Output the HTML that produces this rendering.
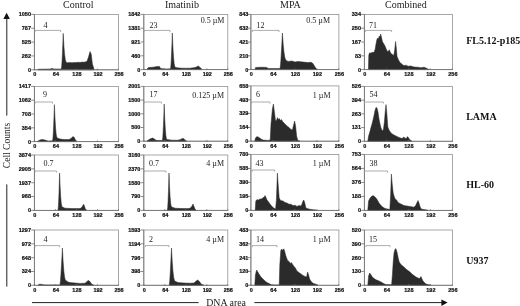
<!DOCTYPE html>
<html><head><meta charset="utf-8"><title>Figure</title>
<style>html,body{margin:0;padding:0;background:#fff;}body{width:520px;height:306px;overflow:hidden;}svg{display:block;will-change:transform;filter:blur(0.3px);}.t{font-family:"Liberation Sans",sans-serif;font-weight:bold;font-size:5.5px;fill:#111;stroke:#111;stroke-width:0.2px;}.s{font-family:"Liberation Serif",serif;font-size:10px;fill:#1a1a1a;}.l{font-family:"Liberation Serif",serif;font-size:8px;fill:#202020;}.b{font-family:"Liberation Serif",serif;font-size:10px;font-weight:bold;fill:#111;}</style></head><body>
<svg width="520" height="306" viewBox="0 0 520 306">
<rect width="520" height="306" fill="#fff"/>
<g>
<rect x="34.4" y="14.4" width="84.1" height="55.4" fill="none" stroke="#929292" stroke-width="0.8"/>
<path d="M38,69.8L38,69.2L50,69.0L52,68.4L54,69.0L61.3,69.0L61.68,66.29L62.06,60.78L62.44,53.28L62.82,44.09L63.2,33.4L63.88,45.42L64.56,53.89L65.24,59.18L65.92,61.79L66.6,62.4L67.5,62.7L70,62.5L72,62.8L74,62.5L76,62.6L78,62.3L80,62.4L82,62.1L84,62.2L86,61.7L87,61.3L88.5,57L90,51.6L91.2,54L92.4,64L94,69L94,69.8Z" fill="#2b2b2b" stroke="#2b2b2b" stroke-width="0.5" stroke-linejoin="round"/>
<path d="M34.4,14.4V69.8H118.5" fill="none" stroke="#707070" stroke-width="0.8"/>
<line x1="31.2" y1="14.40" x2="34.4" y2="14.40" stroke="#707070" stroke-width="0.8"/>
<text class="t" x="31.0" y="16.30" text-anchor="end">1050</text>
<line x1="31.2" y1="28.25" x2="34.4" y2="28.25" stroke="#707070" stroke-width="0.8"/>
<text class="t" x="31.0" y="30.15" text-anchor="end">787</text>
<line x1="31.2" y1="42.10" x2="34.4" y2="42.10" stroke="#707070" stroke-width="0.8"/>
<text class="t" x="31.0" y="44.00" text-anchor="end">525</text>
<line x1="31.2" y1="55.95" x2="34.4" y2="55.95" stroke="#707070" stroke-width="0.8"/>
<text class="t" x="31.0" y="57.85" text-anchor="end">262</text>
<line x1="31.2" y1="69.80" x2="34.4" y2="69.80" stroke="#707070" stroke-width="0.8"/>
<text class="t" x="31.0" y="71.70" text-anchor="end">0</text>
<line x1="34.40" y1="68.60" x2="34.40" y2="70.20" stroke="#707070" stroke-width="0.8"/>
<text class="t" x="34.90" y="76.20" text-anchor="middle">0</text>
<line x1="55.42" y1="68.60" x2="55.42" y2="70.20" stroke="#707070" stroke-width="0.8"/>
<text class="t" x="55.92" y="76.20" text-anchor="middle">64</text>
<line x1="76.45" y1="68.60" x2="76.45" y2="70.20" stroke="#707070" stroke-width="0.8"/>
<text class="t" x="76.95" y="76.20" text-anchor="middle">128</text>
<line x1="97.47" y1="68.60" x2="97.47" y2="70.20" stroke="#707070" stroke-width="0.8"/>
<text class="t" x="97.97" y="76.20" text-anchor="middle">192</text>
<line x1="118.50" y1="68.60" x2="118.50" y2="70.20" stroke="#707070" stroke-width="0.8"/>
<text class="t" x="119.00" y="76.20" text-anchor="middle">256</text>
<path d="M35,32.0V30.4H60.6V32.0" fill="none" stroke="#989898" stroke-width="0.8"/>
<text class="l" x="45.6" y="27.9" text-anchor="middle">4</text>
</g>
<g>
<rect x="143.8" y="14.4" width="84.0" height="55.2" fill="none" stroke="#929292" stroke-width="0.8"/>
<path d="M147,69.6L147,69L148.5,67.5L153,67.2L157,66.6L159.5,66.4L160.5,68.4L166,69L170.5,68.8L170.86,66.07L171.22,60.54L171.58,52.99L171.94,43.75L172.3,33.0L172.92,47.18L173.54,57.16L174.16,63.41L174.78,66.48L175.4,67.2L177,67.8L182,68.2L190,68.2L195,67.6L198.4,66L200,67.4L202,69.2L202,69.6Z" fill="#2b2b2b" stroke="#2b2b2b" stroke-width="0.5" stroke-linejoin="round"/>
<path d="M143.8,14.4V69.6H227.8" fill="none" stroke="#707070" stroke-width="0.8"/>
<line x1="140.60000000000002" y1="14.40" x2="143.8" y2="14.40" stroke="#707070" stroke-width="0.8"/>
<text class="t" x="140.4" y="16.30" text-anchor="end">1842</text>
<line x1="140.60000000000002" y1="28.20" x2="143.8" y2="28.20" stroke="#707070" stroke-width="0.8"/>
<text class="t" x="140.4" y="30.10" text-anchor="end">1381</text>
<line x1="140.60000000000002" y1="42.00" x2="143.8" y2="42.00" stroke="#707070" stroke-width="0.8"/>
<text class="t" x="140.4" y="43.90" text-anchor="end">921</text>
<line x1="140.60000000000002" y1="55.80" x2="143.8" y2="55.80" stroke="#707070" stroke-width="0.8"/>
<text class="t" x="140.4" y="57.70" text-anchor="end">460</text>
<line x1="140.60000000000002" y1="69.60" x2="143.8" y2="69.60" stroke="#707070" stroke-width="0.8"/>
<text class="t" x="140.4" y="71.50" text-anchor="end">0</text>
<line x1="143.80" y1="68.40" x2="143.80" y2="70.00" stroke="#707070" stroke-width="0.8"/>
<text class="t" x="144.30" y="76.00" text-anchor="middle">0</text>
<line x1="164.80" y1="68.40" x2="164.80" y2="70.00" stroke="#707070" stroke-width="0.8"/>
<text class="t" x="165.30" y="76.00" text-anchor="middle">64</text>
<line x1="185.80" y1="68.40" x2="185.80" y2="70.00" stroke="#707070" stroke-width="0.8"/>
<text class="t" x="186.30" y="76.00" text-anchor="middle">128</text>
<line x1="206.80" y1="68.40" x2="206.80" y2="70.00" stroke="#707070" stroke-width="0.8"/>
<text class="t" x="207.30" y="76.00" text-anchor="middle">192</text>
<line x1="227.80" y1="68.40" x2="227.80" y2="70.00" stroke="#707070" stroke-width="0.8"/>
<text class="t" x="228.30" y="76.00" text-anchor="middle">256</text>
<path d="M144,32.0V30.4H170V32.0" fill="none" stroke="#989898" stroke-width="0.8"/>
<text class="l" x="153.6" y="27.9" text-anchor="middle">23</text>
<text class="l" x="224.4" y="22.7" text-anchor="end">0.5 µM</text>
</g>
<g>
<rect x="250.9" y="14.4" width="88.0" height="55.2" fill="none" stroke="#929292" stroke-width="0.8"/>
<path d="M255,69.6L255,69.5L255.6,67.4L262,67.2L267,67.4L268,68.4L275,68.6L280,68.6L280.4,66.0L280.8,61.22L281.2,55.01L281.6,48.12L282.0,40.75L282.4,33.0L283.2,44.36L284.0,52.36L284.8,57.36L285.6,59.82L286.4,60.4L288,61.4L292,61.0L295,62L298,61.4L303,62L308,62.6L311,62.2L313,63.5L315,67L317,69.4L317,69.6Z" fill="#2b2b2b" stroke="#2b2b2b" stroke-width="0.5" stroke-linejoin="round"/>
<path d="M250.9,14.4V69.6H338.9" fill="none" stroke="#707070" stroke-width="0.8"/>
<line x1="247.70000000000002" y1="14.40" x2="250.9" y2="14.40" stroke="#707070" stroke-width="0.8"/>
<text class="t" x="248.4" y="16.30" text-anchor="end">843</text>
<line x1="247.70000000000002" y1="28.20" x2="250.9" y2="28.20" stroke="#707070" stroke-width="0.8"/>
<text class="t" x="248.4" y="30.10" text-anchor="end">632</text>
<line x1="247.70000000000002" y1="42.00" x2="250.9" y2="42.00" stroke="#707070" stroke-width="0.8"/>
<text class="t" x="248.4" y="43.90" text-anchor="end">421</text>
<line x1="247.70000000000002" y1="55.80" x2="250.9" y2="55.80" stroke="#707070" stroke-width="0.8"/>
<text class="t" x="248.4" y="57.70" text-anchor="end">210</text>
<line x1="247.70000000000002" y1="69.60" x2="250.9" y2="69.60" stroke="#707070" stroke-width="0.8"/>
<text class="t" x="248.4" y="71.50" text-anchor="end">0</text>
<line x1="250.90" y1="68.40" x2="250.90" y2="70.00" stroke="#707070" stroke-width="0.8"/>
<text class="t" x="251.40" y="76.00" text-anchor="middle">0</text>
<line x1="272.90" y1="68.40" x2="272.90" y2="70.00" stroke="#707070" stroke-width="0.8"/>
<text class="t" x="273.40" y="76.00" text-anchor="middle">64</text>
<line x1="294.90" y1="68.40" x2="294.90" y2="70.00" stroke="#707070" stroke-width="0.8"/>
<text class="t" x="295.40" y="76.00" text-anchor="middle">128</text>
<line x1="316.90" y1="68.40" x2="316.90" y2="70.00" stroke="#707070" stroke-width="0.8"/>
<text class="t" x="317.40" y="76.00" text-anchor="middle">192</text>
<line x1="338.90" y1="68.40" x2="338.90" y2="70.00" stroke="#707070" stroke-width="0.8"/>
<text class="t" x="339.40" y="76.00" text-anchor="middle">256</text>
<path d="M252.4,32.0V30.4H279V32.0" fill="none" stroke="#989898" stroke-width="0.8"/>
<text class="l" x="260.4" y="27.9" text-anchor="middle">12</text>
<text class="l" x="330" y="22.7" text-anchor="end">0.5 µM</text>
</g>
<g>
<rect x="364.4" y="14.4" width="88.0" height="55.2" fill="none" stroke="#929292" stroke-width="0.8"/>
<path d="M368.4,69.6L368.4,69.5L368.8,55L369.6,52.8L371,53.2L372,52.2L373.2,52.6L374.4,51.6L375.2,49L376,44L376.8,40L377.6,38L378.4,39.2L379.2,36L380,37L380.7,34L381.4,37L382.5,41.8L383.6,43.4L384.9,45.7L386,48.6L386.9,50.4L388,51.8L389.2,49.8L390,51.6L391,53.5L392.4,54.4L393.8,55.4L394.7,50L395.6,41.4L396.4,49L397,56.2L398.5,60L400,62.4L400.9,63.3L403.2,65.2L404.5,65.6L406,65.2L408,66.2L411,66L414,67L418,67.2L421,67.8L424,67.2L426.5,68.2L429,69.5L429,69.6Z" fill="#2b2b2b" stroke="#2b2b2b" stroke-width="0.5" stroke-linejoin="round"/>
<path d="M364.4,14.4V69.6H452.4" fill="none" stroke="#707070" stroke-width="0.8"/>
<line x1="361.2" y1="14.40" x2="364.4" y2="14.40" stroke="#707070" stroke-width="0.8"/>
<text class="t" x="361.0" y="16.30" text-anchor="end">334</text>
<line x1="361.2" y1="28.20" x2="364.4" y2="28.20" stroke="#707070" stroke-width="0.8"/>
<text class="t" x="361.0" y="30.10" text-anchor="end">250</text>
<line x1="361.2" y1="42.00" x2="364.4" y2="42.00" stroke="#707070" stroke-width="0.8"/>
<text class="t" x="361.0" y="43.90" text-anchor="end">167</text>
<line x1="361.2" y1="55.80" x2="364.4" y2="55.80" stroke="#707070" stroke-width="0.8"/>
<text class="t" x="361.0" y="57.70" text-anchor="end">83</text>
<line x1="361.2" y1="69.60" x2="364.4" y2="69.60" stroke="#707070" stroke-width="0.8"/>
<text class="t" x="361.0" y="71.50" text-anchor="end">0</text>
<line x1="364.40" y1="68.40" x2="364.40" y2="70.00" stroke="#707070" stroke-width="0.8"/>
<text class="t" x="364.90" y="76.00" text-anchor="middle">0</text>
<line x1="386.40" y1="68.40" x2="386.40" y2="70.00" stroke="#707070" stroke-width="0.8"/>
<text class="t" x="386.90" y="76.00" text-anchor="middle">64</text>
<line x1="408.40" y1="68.40" x2="408.40" y2="70.00" stroke="#707070" stroke-width="0.8"/>
<text class="t" x="408.90" y="76.00" text-anchor="middle">128</text>
<line x1="430.40" y1="68.40" x2="430.40" y2="70.00" stroke="#707070" stroke-width="0.8"/>
<text class="t" x="430.90" y="76.00" text-anchor="middle">192</text>
<line x1="452.40" y1="68.40" x2="452.40" y2="70.00" stroke="#707070" stroke-width="0.8"/>
<text class="t" x="452.90" y="76.00" text-anchor="middle">256</text>
<path d="M365.4,32.0V30.4H391.6V32.0" fill="none" stroke="#989898" stroke-width="0.8"/>
<text class="l" x="373" y="27.9" text-anchor="middle">71</text>
</g>
<g>
<rect x="34.4" y="86.4" width="84.1" height="55.2" fill="none" stroke="#929292" stroke-width="0.8"/>
<path d="M37.5,141.6L37.5,141.2L40,140L42,139.4L45,140L48,141L52.6,140.8L52.96,138.04L53.32,132.44L53.68,124.81L54.04,115.47L54.4,104.6L55.0,118.45L55.6,128.2L56.2,134.3L56.8,137.3L57.4,138.0L60,139L64,139.6L69,139.6L71,138.4L73,136.6L74.4,137.6L75.4,140L76.5,141.3L76.5,141.6Z" fill="#2b2b2b" stroke="#2b2b2b" stroke-width="0.5" stroke-linejoin="round"/>
<path d="M34.4,86.4V141.6H118.5" fill="none" stroke="#707070" stroke-width="0.8"/>
<line x1="31.2" y1="86.40" x2="34.4" y2="86.40" stroke="#707070" stroke-width="0.8"/>
<text class="t" x="31.0" y="88.30" text-anchor="end">1417</text>
<line x1="31.2" y1="100.20" x2="34.4" y2="100.20" stroke="#707070" stroke-width="0.8"/>
<text class="t" x="31.0" y="102.10" text-anchor="end">1062</text>
<line x1="31.2" y1="114.00" x2="34.4" y2="114.00" stroke="#707070" stroke-width="0.8"/>
<text class="t" x="31.0" y="115.90" text-anchor="end">708</text>
<line x1="31.2" y1="127.80" x2="34.4" y2="127.80" stroke="#707070" stroke-width="0.8"/>
<text class="t" x="31.0" y="129.70" text-anchor="end">354</text>
<line x1="31.2" y1="141.60" x2="34.4" y2="141.60" stroke="#707070" stroke-width="0.8"/>
<text class="t" x="31.0" y="143.50" text-anchor="end">0</text>
<line x1="34.40" y1="140.40" x2="34.40" y2="142.00" stroke="#707070" stroke-width="0.8"/>
<text class="t" x="34.90" y="148.00" text-anchor="middle">0</text>
<line x1="55.42" y1="140.40" x2="55.42" y2="142.00" stroke="#707070" stroke-width="0.8"/>
<text class="t" x="55.92" y="148.00" text-anchor="middle">64</text>
<line x1="76.45" y1="140.40" x2="76.45" y2="142.00" stroke="#707070" stroke-width="0.8"/>
<text class="t" x="76.95" y="148.00" text-anchor="middle">128</text>
<line x1="97.47" y1="140.40" x2="97.47" y2="142.00" stroke="#707070" stroke-width="0.8"/>
<text class="t" x="97.97" y="148.00" text-anchor="middle">192</text>
<line x1="118.50" y1="140.40" x2="118.50" y2="142.00" stroke="#707070" stroke-width="0.8"/>
<text class="t" x="119.00" y="148.00" text-anchor="middle">256</text>
<path d="M35,103.6V102H52.4V103.6" fill="none" stroke="#989898" stroke-width="0.8"/>
<text class="l" x="45" y="97.3" text-anchor="middle">9</text>
</g>
<g>
<rect x="143.8" y="86.4" width="84.0" height="54.8" fill="none" stroke="#929292" stroke-width="0.8"/>
<path d="M147,141.2L147,141L149,139.6L151,138.6L152.6,138L154,138.8L156,140.2L158,140.6L162.4,140.4L162.76,137.63L163.12,132.0L163.48,124.33L163.84,114.93L164.2,104.0L164.76,118.68L165.32,129.01L165.88,135.47L166.44,138.66L167.0,139.4L172,140.2L178,140.2L180.5,139.4L183,138.2L184.6,139.4L186.5,141.2L186.5,141.2Z" fill="#2b2b2b" stroke="#2b2b2b" stroke-width="0.5" stroke-linejoin="round"/>
<path d="M143.8,86.4V141.2H227.8" fill="none" stroke="#707070" stroke-width="0.8"/>
<line x1="140.60000000000002" y1="86.40" x2="143.8" y2="86.40" stroke="#707070" stroke-width="0.8"/>
<text class="t" x="140.4" y="88.30" text-anchor="end">2001</text>
<line x1="140.60000000000002" y1="100.10" x2="143.8" y2="100.10" stroke="#707070" stroke-width="0.8"/>
<text class="t" x="140.4" y="102.00" text-anchor="end">1500</text>
<line x1="140.60000000000002" y1="113.80" x2="143.8" y2="113.80" stroke="#707070" stroke-width="0.8"/>
<text class="t" x="140.4" y="115.70" text-anchor="end">1000</text>
<line x1="140.60000000000002" y1="127.50" x2="143.8" y2="127.50" stroke="#707070" stroke-width="0.8"/>
<text class="t" x="140.4" y="129.40" text-anchor="end">500</text>
<line x1="140.60000000000002" y1="141.20" x2="143.8" y2="141.20" stroke="#707070" stroke-width="0.8"/>
<text class="t" x="140.4" y="143.10" text-anchor="end">0</text>
<line x1="143.80" y1="140.00" x2="143.80" y2="141.60" stroke="#707070" stroke-width="0.8"/>
<text class="t" x="144.30" y="147.60" text-anchor="middle">0</text>
<line x1="164.80" y1="140.00" x2="164.80" y2="141.60" stroke="#707070" stroke-width="0.8"/>
<text class="t" x="165.30" y="147.60" text-anchor="middle">64</text>
<line x1="185.80" y1="140.00" x2="185.80" y2="141.60" stroke="#707070" stroke-width="0.8"/>
<text class="t" x="186.30" y="147.60" text-anchor="middle">128</text>
<line x1="206.80" y1="140.00" x2="206.80" y2="141.60" stroke="#707070" stroke-width="0.8"/>
<text class="t" x="207.30" y="147.60" text-anchor="middle">192</text>
<line x1="227.80" y1="140.00" x2="227.80" y2="141.60" stroke="#707070" stroke-width="0.8"/>
<text class="t" x="228.30" y="147.60" text-anchor="middle">256</text>
<path d="M144,103.6V102H161.4V103.6" fill="none" stroke="#989898" stroke-width="0.8"/>
<text class="l" x="153.4" y="97.3" text-anchor="middle">17</text>
<text class="l" x="224" y="97.5" text-anchor="end">0.125 µM</text>
</g>
<g>
<rect x="250.9" y="85.9" width="88.0" height="55.3" fill="none" stroke="#929292" stroke-width="0.8"/>
<path d="M254.8,141.2L254.8,141.2L255.4,138L257,136.6L259,137.4L261,139L263,140L268,140.4L270.2,140L271,124L272.4,109L273.4,104L274.4,112L275.4,120L276.4,121L277.4,117.6L278.4,119.4L279.4,118.6L280.4,120.6L281.4,119.6L283,122L285,124L287,126L289,127.4L291,129.4L292.4,130L293.6,125L294.6,121L295.6,126L296.6,136L297.8,140.4L300,141.2L300,141.2Z" fill="#2b2b2b" stroke="#2b2b2b" stroke-width="0.5" stroke-linejoin="round"/>
<path d="M250.9,85.9V141.2H338.9" fill="none" stroke="#707070" stroke-width="0.8"/>
<line x1="247.70000000000002" y1="85.90" x2="250.9" y2="85.90" stroke="#707070" stroke-width="0.8"/>
<text class="t" x="248.4" y="87.80" text-anchor="end">658</text>
<line x1="247.70000000000002" y1="99.72" x2="250.9" y2="99.72" stroke="#707070" stroke-width="0.8"/>
<text class="t" x="248.4" y="101.62" text-anchor="end">493</text>
<line x1="247.70000000000002" y1="113.55" x2="250.9" y2="113.55" stroke="#707070" stroke-width="0.8"/>
<text class="t" x="248.4" y="115.45" text-anchor="end">329</text>
<line x1="247.70000000000002" y1="127.38" x2="250.9" y2="127.38" stroke="#707070" stroke-width="0.8"/>
<text class="t" x="248.4" y="129.28" text-anchor="end">164</text>
<line x1="247.70000000000002" y1="141.20" x2="250.9" y2="141.20" stroke="#707070" stroke-width="0.8"/>
<text class="t" x="248.4" y="143.10" text-anchor="end">0</text>
<line x1="250.90" y1="140.00" x2="250.90" y2="141.60" stroke="#707070" stroke-width="0.8"/>
<text class="t" x="251.40" y="147.60" text-anchor="middle">0</text>
<line x1="272.90" y1="140.00" x2="272.90" y2="141.60" stroke="#707070" stroke-width="0.8"/>
<text class="t" x="273.40" y="147.60" text-anchor="middle">64</text>
<line x1="294.90" y1="140.00" x2="294.90" y2="141.60" stroke="#707070" stroke-width="0.8"/>
<text class="t" x="295.40" y="147.60" text-anchor="middle">128</text>
<line x1="316.90" y1="140.00" x2="316.90" y2="141.60" stroke="#707070" stroke-width="0.8"/>
<text class="t" x="317.40" y="147.60" text-anchor="middle">192</text>
<line x1="338.90" y1="140.00" x2="338.90" y2="141.60" stroke="#707070" stroke-width="0.8"/>
<text class="t" x="339.40" y="147.60" text-anchor="middle">256</text>
<path d="M251,103.6V102H270V103.6" fill="none" stroke="#989898" stroke-width="0.8"/>
<text class="l" x="258" y="97.3" text-anchor="middle">6</text>
<text class="l" x="330.6" y="97.5" text-anchor="end">1 µM</text>
</g>
<g>
<rect x="364.4" y="86.4" width="88.0" height="54.9" fill="none" stroke="#929292" stroke-width="0.8"/>
<path d="M367.8,141.3L367.8,141.2L368.6,136L369.8,132L370.8,128L372,124L373,120L374,115.6L375,110.4L376,107.4L377,108L378,112L379,119L380,124L381,128L382.4,131L383.4,129.6L384.4,122L385.2,112L386,104.6L386.8,113L387.8,127L389,130L391,133L393,134.4L396,136L399,137.4L402,138.6L403,137.6L404,137L405,138.4L406.4,138.2L407.6,136.6L408.6,138L410,140L412,141.2L412,141.3Z" fill="#2b2b2b" stroke="#2b2b2b" stroke-width="0.5" stroke-linejoin="round"/>
<path d="M364.4,86.4V141.3H452.4" fill="none" stroke="#707070" stroke-width="0.8"/>
<line x1="361.2" y1="86.40" x2="364.4" y2="86.40" stroke="#707070" stroke-width="0.8"/>
<text class="t" x="361.0" y="88.30" text-anchor="end">526</text>
<line x1="361.2" y1="100.12" x2="364.4" y2="100.12" stroke="#707070" stroke-width="0.8"/>
<text class="t" x="361.0" y="102.03" text-anchor="end">394</text>
<line x1="361.2" y1="113.85" x2="364.4" y2="113.85" stroke="#707070" stroke-width="0.8"/>
<text class="t" x="361.0" y="115.75" text-anchor="end">263</text>
<line x1="361.2" y1="127.58" x2="364.4" y2="127.58" stroke="#707070" stroke-width="0.8"/>
<text class="t" x="361.0" y="129.48" text-anchor="end">131</text>
<line x1="361.2" y1="141.30" x2="364.4" y2="141.30" stroke="#707070" stroke-width="0.8"/>
<text class="t" x="361.0" y="143.20" text-anchor="end">0</text>
<line x1="364.40" y1="140.10" x2="364.40" y2="141.70" stroke="#707070" stroke-width="0.8"/>
<text class="t" x="364.90" y="147.70" text-anchor="middle">0</text>
<line x1="386.40" y1="140.10" x2="386.40" y2="141.70" stroke="#707070" stroke-width="0.8"/>
<text class="t" x="386.90" y="147.70" text-anchor="middle">64</text>
<line x1="408.40" y1="140.10" x2="408.40" y2="141.70" stroke="#707070" stroke-width="0.8"/>
<text class="t" x="408.90" y="147.70" text-anchor="middle">128</text>
<line x1="430.40" y1="140.10" x2="430.40" y2="141.70" stroke="#707070" stroke-width="0.8"/>
<text class="t" x="430.90" y="147.70" text-anchor="middle">192</text>
<line x1="452.40" y1="140.10" x2="452.40" y2="141.70" stroke="#707070" stroke-width="0.8"/>
<text class="t" x="452.90" y="147.70" text-anchor="middle">256</text>
<path d="M364.4,103.6V102H383.4V103.6" fill="none" stroke="#989898" stroke-width="0.8"/>
<text class="l" x="373.4" y="97.3" text-anchor="middle">54</text>
</g>
<g>
<rect x="34.4" y="155.0" width="84.1" height="55.4" fill="none" stroke="#929292" stroke-width="0.8"/>
<path d="M58.0,210.4L58.0,210.0L58.32,207.18L58.64,201.46L58.96,193.66L59.28,184.11L59.6,173.0L60.16,187.1L60.72,197.02L61.28,203.23L61.84,206.29L62.4,207.0L65,208.2L72,208.6L80,208.6L81.6,207.6L82.6,206L83.6,204.2L84.4,206L85.2,208.6L86.5,210.2L86.5,210.4Z" fill="#2b2b2b" stroke="#2b2b2b" stroke-width="0.5" stroke-linejoin="round"/>
<path d="M34.4,155.0V210.4H118.5" fill="none" stroke="#707070" stroke-width="0.8"/>
<line x1="31.2" y1="155.00" x2="34.4" y2="155.00" stroke="#707070" stroke-width="0.8"/>
<text class="t" x="31.0" y="156.90" text-anchor="end">3874</text>
<line x1="31.2" y1="168.85" x2="34.4" y2="168.85" stroke="#707070" stroke-width="0.8"/>
<text class="t" x="31.0" y="170.75" text-anchor="end">2905</text>
<line x1="31.2" y1="182.70" x2="34.4" y2="182.70" stroke="#707070" stroke-width="0.8"/>
<text class="t" x="31.0" y="184.60" text-anchor="end">1937</text>
<line x1="31.2" y1="196.55" x2="34.4" y2="196.55" stroke="#707070" stroke-width="0.8"/>
<text class="t" x="31.0" y="198.45" text-anchor="end">968</text>
<line x1="31.2" y1="210.40" x2="34.4" y2="210.40" stroke="#707070" stroke-width="0.8"/>
<text class="t" x="31.0" y="212.30" text-anchor="end">0</text>
<line x1="34.40" y1="209.20" x2="34.40" y2="210.80" stroke="#707070" stroke-width="0.8"/>
<text class="t" x="34.90" y="216.80" text-anchor="middle">0</text>
<line x1="55.42" y1="209.20" x2="55.42" y2="210.80" stroke="#707070" stroke-width="0.8"/>
<text class="t" x="55.92" y="216.80" text-anchor="middle">64</text>
<line x1="76.45" y1="209.20" x2="76.45" y2="210.80" stroke="#707070" stroke-width="0.8"/>
<text class="t" x="76.95" y="216.80" text-anchor="middle">128</text>
<line x1="97.47" y1="209.20" x2="97.47" y2="210.80" stroke="#707070" stroke-width="0.8"/>
<text class="t" x="97.97" y="216.80" text-anchor="middle">192</text>
<line x1="118.50" y1="209.20" x2="118.50" y2="210.80" stroke="#707070" stroke-width="0.8"/>
<text class="t" x="119.00" y="216.80" text-anchor="middle">256</text>
<path d="M35,172.6V171H56.6V172.6" fill="none" stroke="#989898" stroke-width="0.8"/>
<text class="l" x="48.4" y="166.1" text-anchor="middle">0.7</text>
</g>
<g>
<rect x="143.8" y="155.0" width="84.0" height="55.4" fill="none" stroke="#929292" stroke-width="0.8"/>
<path d="M167.4,210.4L167.4,210.0L167.72,207.18L168.04,201.46L168.36,193.66L168.68,184.11L169.0,173.0L169.56,187.1L170.12,197.02L170.68,203.23L171.24,206.29L171.8,207.0L175,208.2L182,208.6L189,208.6L191,207.6L192,206L193,204L193.8,206L194.8,208.6L196,210.2L196,210.4Z" fill="#2b2b2b" stroke="#2b2b2b" stroke-width="0.5" stroke-linejoin="round"/>
<path d="M143.8,155.0V210.4H227.8" fill="none" stroke="#707070" stroke-width="0.8"/>
<line x1="140.60000000000002" y1="155.00" x2="143.8" y2="155.00" stroke="#707070" stroke-width="0.8"/>
<text class="t" x="140.4" y="156.90" text-anchor="end">3160</text>
<line x1="140.60000000000002" y1="168.85" x2="143.8" y2="168.85" stroke="#707070" stroke-width="0.8"/>
<text class="t" x="140.4" y="170.75" text-anchor="end">2370</text>
<line x1="140.60000000000002" y1="182.70" x2="143.8" y2="182.70" stroke="#707070" stroke-width="0.8"/>
<text class="t" x="140.4" y="184.60" text-anchor="end">1580</text>
<line x1="140.60000000000002" y1="196.55" x2="143.8" y2="196.55" stroke="#707070" stroke-width="0.8"/>
<text class="t" x="140.4" y="198.45" text-anchor="end">790</text>
<line x1="140.60000000000002" y1="210.40" x2="143.8" y2="210.40" stroke="#707070" stroke-width="0.8"/>
<text class="t" x="140.4" y="212.30" text-anchor="end">0</text>
<line x1="143.80" y1="209.20" x2="143.80" y2="210.80" stroke="#707070" stroke-width="0.8"/>
<text class="t" x="144.30" y="216.80" text-anchor="middle">0</text>
<line x1="164.80" y1="209.20" x2="164.80" y2="210.80" stroke="#707070" stroke-width="0.8"/>
<text class="t" x="165.30" y="216.80" text-anchor="middle">64</text>
<line x1="185.80" y1="209.20" x2="185.80" y2="210.80" stroke="#707070" stroke-width="0.8"/>
<text class="t" x="186.30" y="216.80" text-anchor="middle">128</text>
<line x1="206.80" y1="209.20" x2="206.80" y2="210.80" stroke="#707070" stroke-width="0.8"/>
<text class="t" x="207.30" y="216.80" text-anchor="middle">192</text>
<line x1="227.80" y1="209.20" x2="227.80" y2="210.80" stroke="#707070" stroke-width="0.8"/>
<text class="t" x="228.30" y="216.80" text-anchor="middle">256</text>
<path d="M144,172.6V171H166V172.6" fill="none" stroke="#989898" stroke-width="0.8"/>
<text class="l" x="154" y="166.1" text-anchor="middle">0.7</text>
<text class="l" x="224" y="166.1" text-anchor="end">4 µM</text>
</g>
<g>
<rect x="250.9" y="154.4" width="88.0" height="56.0" fill="none" stroke="#929292" stroke-width="0.8"/>
<path d="M255.2,210.4L255.2,210.2L255.8,201L257,199.6L258.4,200L260,199L261.6,199L263,197.6L264,197.4L265,195.6L266,197.6L267,200L268.6,202L270,204L271.6,206L273.6,208L275.6,209L276.4,200L277.4,173L278.2,185L279.2,198L280.6,200.6L283,201L285,202.4L287,203L289,204.2L291,204.2L293,205.6L295,205.2L297,206.4L299,205.6L301,206L302,204L303,201L303.8,200L304.8,203L305.8,207.4L307,208.6L311,209.4L317,210.2L317,210.4Z" fill="#2b2b2b" stroke="#2b2b2b" stroke-width="0.5" stroke-linejoin="round"/>
<path d="M250.9,154.4V210.4H338.9" fill="none" stroke="#707070" stroke-width="0.8"/>
<line x1="247.70000000000002" y1="154.40" x2="250.9" y2="154.40" stroke="#707070" stroke-width="0.8"/>
<text class="t" x="248.4" y="156.30" text-anchor="end">780</text>
<line x1="247.70000000000002" y1="168.40" x2="250.9" y2="168.40" stroke="#707070" stroke-width="0.8"/>
<text class="t" x="248.4" y="170.30" text-anchor="end">585</text>
<line x1="247.70000000000002" y1="182.40" x2="250.9" y2="182.40" stroke="#707070" stroke-width="0.8"/>
<text class="t" x="248.4" y="184.30" text-anchor="end">390</text>
<line x1="247.70000000000002" y1="196.40" x2="250.9" y2="196.40" stroke="#707070" stroke-width="0.8"/>
<text class="t" x="248.4" y="198.30" text-anchor="end">195</text>
<line x1="247.70000000000002" y1="210.40" x2="250.9" y2="210.40" stroke="#707070" stroke-width="0.8"/>
<text class="t" x="248.4" y="212.30" text-anchor="end">0</text>
<line x1="250.90" y1="209.20" x2="250.90" y2="210.80" stroke="#707070" stroke-width="0.8"/>
<text class="t" x="251.40" y="216.80" text-anchor="middle">0</text>
<line x1="272.90" y1="209.20" x2="272.90" y2="210.80" stroke="#707070" stroke-width="0.8"/>
<text class="t" x="273.40" y="216.80" text-anchor="middle">64</text>
<line x1="294.90" y1="209.20" x2="294.90" y2="210.80" stroke="#707070" stroke-width="0.8"/>
<text class="t" x="295.40" y="216.80" text-anchor="middle">128</text>
<line x1="316.90" y1="209.20" x2="316.90" y2="210.80" stroke="#707070" stroke-width="0.8"/>
<text class="t" x="317.40" y="216.80" text-anchor="middle">192</text>
<line x1="338.90" y1="209.20" x2="338.90" y2="210.80" stroke="#707070" stroke-width="0.8"/>
<text class="t" x="339.40" y="216.80" text-anchor="middle">256</text>
<path d="M252.4,171.6V170H274.6V171.6" fill="none" stroke="#989898" stroke-width="0.8"/>
<text class="l" x="259.4" y="166.1" text-anchor="middle">43</text>
<text class="l" x="330.6" y="166.1" text-anchor="end">1 µM</text>
</g>
<g>
<rect x="364.4" y="154.4" width="88.0" height="56.0" fill="none" stroke="#929292" stroke-width="0.8"/>
<path d="M367.8,210.4L367.8,210.2L368.6,201L369.8,198.4L371.4,196.6L373,195.6L374.4,196.6L376,198L377.4,200L379,203L380.6,205L382.6,207L385,208.4L389.8,209.6L390.6,196L391.4,174L392.2,184L393.2,193L394.2,196.6L395.2,199L396.6,200L398,202.4L400,203.6L402,204.6L404,205.6L407,206L410,206.4L414,207.2L415.6,205.6L416.8,203L418,200.6L419,203L420,206.6L421.2,209L424,209.6L428,210.2L428,210.4Z" fill="#2b2b2b" stroke="#2b2b2b" stroke-width="0.5" stroke-linejoin="round"/>
<path d="M364.4,154.4V210.4H452.4" fill="none" stroke="#707070" stroke-width="0.8"/>
<line x1="361.2" y1="154.40" x2="364.4" y2="154.40" stroke="#707070" stroke-width="0.8"/>
<text class="t" x="361.0" y="156.30" text-anchor="end">753</text>
<line x1="361.2" y1="168.40" x2="364.4" y2="168.40" stroke="#707070" stroke-width="0.8"/>
<text class="t" x="361.0" y="170.30" text-anchor="end">564</text>
<line x1="361.2" y1="182.40" x2="364.4" y2="182.40" stroke="#707070" stroke-width="0.8"/>
<text class="t" x="361.0" y="184.30" text-anchor="end">376</text>
<line x1="361.2" y1="196.40" x2="364.4" y2="196.40" stroke="#707070" stroke-width="0.8"/>
<text class="t" x="361.0" y="198.30" text-anchor="end">188</text>
<line x1="361.2" y1="210.40" x2="364.4" y2="210.40" stroke="#707070" stroke-width="0.8"/>
<text class="t" x="361.0" y="212.30" text-anchor="end">0</text>
<line x1="364.40" y1="209.20" x2="364.40" y2="210.80" stroke="#707070" stroke-width="0.8"/>
<text class="t" x="364.90" y="216.80" text-anchor="middle">0</text>
<line x1="386.40" y1="209.20" x2="386.40" y2="210.80" stroke="#707070" stroke-width="0.8"/>
<text class="t" x="386.90" y="216.80" text-anchor="middle">64</text>
<line x1="408.40" y1="209.20" x2="408.40" y2="210.80" stroke="#707070" stroke-width="0.8"/>
<text class="t" x="408.90" y="216.80" text-anchor="middle">128</text>
<line x1="430.40" y1="209.20" x2="430.40" y2="210.80" stroke="#707070" stroke-width="0.8"/>
<text class="t" x="430.90" y="216.80" text-anchor="middle">192</text>
<line x1="452.40" y1="209.20" x2="452.40" y2="210.80" stroke="#707070" stroke-width="0.8"/>
<text class="t" x="452.90" y="216.80" text-anchor="middle">256</text>
<path d="M364.4,172.6V171H387.6V172.6" fill="none" stroke="#989898" stroke-width="0.8"/>
<text class="l" x="373.4" y="166.1" text-anchor="middle">38</text>
</g>
<g>
<rect x="34.4" y="230.0" width="84.1" height="55.3" fill="none" stroke="#929292" stroke-width="0.8"/>
<path d="M38,285.3L38,285.2L39.5,284.2L42,284.4L44,285L60.0,285.0L60.48,280.43L60.96,273.76L61.44,265.95L61.92,257.32L62.4,248.0L63.12,261.52L63.84,271.03L64.56,276.98L65.28,279.92L66.0,280.6L68,282L70,282.6L75,283L80,283.4L85,283.2L86.6,282L88,280.4L89.4,281L90.6,282.6L92,284.4L94,285.2L94,285.3Z" fill="#2b2b2b" stroke="#2b2b2b" stroke-width="0.5" stroke-linejoin="round"/>
<path d="M34.4,230.0V285.3H118.5" fill="none" stroke="#707070" stroke-width="0.8"/>
<line x1="31.2" y1="230.00" x2="34.4" y2="230.00" stroke="#707070" stroke-width="0.8"/>
<text class="t" x="31.0" y="231.90" text-anchor="end">1297</text>
<line x1="31.2" y1="243.82" x2="34.4" y2="243.82" stroke="#707070" stroke-width="0.8"/>
<text class="t" x="31.0" y="245.72" text-anchor="end">972</text>
<line x1="31.2" y1="257.65" x2="34.4" y2="257.65" stroke="#707070" stroke-width="0.8"/>
<text class="t" x="31.0" y="259.55" text-anchor="end">648</text>
<line x1="31.2" y1="271.48" x2="34.4" y2="271.48" stroke="#707070" stroke-width="0.8"/>
<text class="t" x="31.0" y="273.38" text-anchor="end">324</text>
<line x1="31.2" y1="285.30" x2="34.4" y2="285.30" stroke="#707070" stroke-width="0.8"/>
<text class="t" x="31.0" y="287.20" text-anchor="end">0</text>
<line x1="34.40" y1="284.10" x2="34.40" y2="285.70" stroke="#707070" stroke-width="0.8"/>
<text class="t" x="34.90" y="291.70" text-anchor="middle">0</text>
<line x1="55.42" y1="284.10" x2="55.42" y2="285.70" stroke="#707070" stroke-width="0.8"/>
<text class="t" x="55.92" y="291.70" text-anchor="middle">64</text>
<line x1="76.45" y1="284.10" x2="76.45" y2="285.70" stroke="#707070" stroke-width="0.8"/>
<text class="t" x="76.95" y="291.70" text-anchor="middle">128</text>
<line x1="97.47" y1="284.10" x2="97.47" y2="285.70" stroke="#707070" stroke-width="0.8"/>
<text class="t" x="97.97" y="291.70" text-anchor="middle">192</text>
<line x1="118.50" y1="284.10" x2="118.50" y2="285.70" stroke="#707070" stroke-width="0.8"/>
<text class="t" x="119.00" y="291.70" text-anchor="middle">256</text>
<path d="M35,247.2V245.6H59.6V247.2" fill="none" stroke="#989898" stroke-width="0.8"/>
<text class="l" x="45.6" y="241.9" text-anchor="middle">4</text>
</g>
<g>
<rect x="143.8" y="230.0" width="84.0" height="55.3" fill="none" stroke="#929292" stroke-width="0.8"/>
<path d="M169.3,285.3L169.3,285.2L169.74,280.61L170.18,273.9L170.62,266.05L171.06,257.37L171.5,248.0L172.24,261.77L172.98,271.46L173.72,277.52L174.46,280.5L175.2,281.2L178,282.6L184,283L190,283.2L194,283L195.6,281.6L197.4,280L199,281L200.4,283L202,284.6L204,285.2L204,285.3Z" fill="#2b2b2b" stroke="#2b2b2b" stroke-width="0.5" stroke-linejoin="round"/>
<path d="M143.8,230.0V285.3H227.8" fill="none" stroke="#707070" stroke-width="0.8"/>
<line x1="140.60000000000002" y1="230.00" x2="143.8" y2="230.00" stroke="#707070" stroke-width="0.8"/>
<text class="t" x="140.4" y="231.90" text-anchor="end">1593</text>
<line x1="140.60000000000002" y1="243.82" x2="143.8" y2="243.82" stroke="#707070" stroke-width="0.8"/>
<text class="t" x="140.4" y="245.72" text-anchor="end">1194</text>
<line x1="140.60000000000002" y1="257.65" x2="143.8" y2="257.65" stroke="#707070" stroke-width="0.8"/>
<text class="t" x="140.4" y="259.55" text-anchor="end">796</text>
<line x1="140.60000000000002" y1="271.48" x2="143.8" y2="271.48" stroke="#707070" stroke-width="0.8"/>
<text class="t" x="140.4" y="273.38" text-anchor="end">398</text>
<line x1="140.60000000000002" y1="285.30" x2="143.8" y2="285.30" stroke="#707070" stroke-width="0.8"/>
<text class="t" x="140.4" y="287.20" text-anchor="end">0</text>
<line x1="143.80" y1="284.10" x2="143.80" y2="285.70" stroke="#707070" stroke-width="0.8"/>
<text class="t" x="144.30" y="291.70" text-anchor="middle">0</text>
<line x1="164.80" y1="284.10" x2="164.80" y2="285.70" stroke="#707070" stroke-width="0.8"/>
<text class="t" x="165.30" y="291.70" text-anchor="middle">64</text>
<line x1="185.80" y1="284.10" x2="185.80" y2="285.70" stroke="#707070" stroke-width="0.8"/>
<text class="t" x="186.30" y="291.70" text-anchor="middle">128</text>
<line x1="206.80" y1="284.10" x2="206.80" y2="285.70" stroke="#707070" stroke-width="0.8"/>
<text class="t" x="207.30" y="291.70" text-anchor="middle">192</text>
<line x1="227.80" y1="284.10" x2="227.80" y2="285.70" stroke="#707070" stroke-width="0.8"/>
<text class="t" x="228.30" y="291.70" text-anchor="middle">256</text>
<path d="M145.4,247.2V245.6H169V247.2" fill="none" stroke="#989898" stroke-width="0.8"/>
<text class="l" x="151" y="241.9" text-anchor="middle">2</text>
<text class="l" x="224" y="241.9" text-anchor="end">4 µM</text>
</g>
<g>
<rect x="250.9" y="230.0" width="88.0" height="55.3" fill="none" stroke="#929292" stroke-width="0.8"/>
<path d="M254.8,285.3L254.8,285.2L255.4,275L256.6,270L257.6,271.6L259,274L261,277L263,279L265,281L267,282.6L269,283.6L272,285L279.2,285L279.8,265L280.8,250.4L281.8,249L282.8,250.6L283.8,248.8L284.6,251L285.6,255L286.6,258L287.6,260.4L289,261.4L290.4,263.4L291.4,262.6L292.6,264.4L294,266.4L295.4,268L297,271L299,272.6L301,274L303,275.4L305,276.4L306.6,277L307.6,272L308.6,275L309.6,279L310.6,280.6L312,282.6L313.6,283.6L316,284.2L318,285.2L318,285.3Z" fill="#2b2b2b" stroke="#2b2b2b" stroke-width="0.5" stroke-linejoin="round"/>
<path d="M250.9,230.0V285.3H338.9" fill="none" stroke="#707070" stroke-width="0.8"/>
<line x1="247.70000000000002" y1="230.00" x2="250.9" y2="230.00" stroke="#707070" stroke-width="0.8"/>
<text class="t" x="248.4" y="231.90" text-anchor="end">483</text>
<line x1="247.70000000000002" y1="243.82" x2="250.9" y2="243.82" stroke="#707070" stroke-width="0.8"/>
<text class="t" x="248.4" y="245.72" text-anchor="end">362</text>
<line x1="247.70000000000002" y1="257.65" x2="250.9" y2="257.65" stroke="#707070" stroke-width="0.8"/>
<text class="t" x="248.4" y="259.55" text-anchor="end">241</text>
<line x1="247.70000000000002" y1="271.48" x2="250.9" y2="271.48" stroke="#707070" stroke-width="0.8"/>
<text class="t" x="248.4" y="273.38" text-anchor="end">120</text>
<line x1="247.70000000000002" y1="285.30" x2="250.9" y2="285.30" stroke="#707070" stroke-width="0.8"/>
<text class="t" x="248.4" y="287.20" text-anchor="end">0</text>
<line x1="250.90" y1="284.10" x2="250.90" y2="285.70" stroke="#707070" stroke-width="0.8"/>
<text class="t" x="251.40" y="291.70" text-anchor="middle">0</text>
<line x1="272.90" y1="284.10" x2="272.90" y2="285.70" stroke="#707070" stroke-width="0.8"/>
<text class="t" x="273.40" y="291.70" text-anchor="middle">64</text>
<line x1="294.90" y1="284.10" x2="294.90" y2="285.70" stroke="#707070" stroke-width="0.8"/>
<text class="t" x="295.40" y="291.70" text-anchor="middle">128</text>
<line x1="316.90" y1="284.10" x2="316.90" y2="285.70" stroke="#707070" stroke-width="0.8"/>
<text class="t" x="317.40" y="291.70" text-anchor="middle">192</text>
<line x1="338.90" y1="284.10" x2="338.90" y2="285.70" stroke="#707070" stroke-width="0.8"/>
<text class="t" x="339.40" y="291.70" text-anchor="middle">256</text>
<path d="M252.4,247.2V245.6H277V247.2" fill="none" stroke="#989898" stroke-width="0.8"/>
<text class="l" x="260" y="241.9" text-anchor="middle">14</text>
<text class="l" x="330.6" y="241.9" text-anchor="end">1 µM</text>
</g>
<g>
<rect x="364.4" y="230.0" width="88.0" height="55.3" fill="none" stroke="#929292" stroke-width="0.8"/>
<path d="M367.8,285.3L367.8,285.2L368.6,276L369.6,273L370.8,274.6L372,276.6L374,278.6L376,279.8L378,280.6L380,281.4L382,282.6L384,283.8L386,284.6L391.6,284.8L392.4,275L393.2,262L394,253L395,249.4L395.6,248.6L396.4,250L397.2,253L398.2,258L399.2,262L400.6,264L402,265.6L404,267L406,269L408,270.6L410,272L412,274L414,275.6L416,277L418,278L419.6,278.6L421,276.6L422,279L423,281L424.4,282.6L426,284L428,284.6L431,285.2L431,285.3Z" fill="#2b2b2b" stroke="#2b2b2b" stroke-width="0.5" stroke-linejoin="round"/>
<path d="M364.4,230.0V285.3H452.4" fill="none" stroke="#707070" stroke-width="0.8"/>
<line x1="361.2" y1="230.00" x2="364.4" y2="230.00" stroke="#707070" stroke-width="0.8"/>
<text class="t" x="361.0" y="231.90" text-anchor="end">520</text>
<line x1="361.2" y1="243.82" x2="364.4" y2="243.82" stroke="#707070" stroke-width="0.8"/>
<text class="t" x="361.0" y="245.72" text-anchor="end">390</text>
<line x1="361.2" y1="257.65" x2="364.4" y2="257.65" stroke="#707070" stroke-width="0.8"/>
<text class="t" x="361.0" y="259.55" text-anchor="end">260</text>
<line x1="361.2" y1="271.48" x2="364.4" y2="271.48" stroke="#707070" stroke-width="0.8"/>
<text class="t" x="361.0" y="273.38" text-anchor="end">130</text>
<line x1="361.2" y1="285.30" x2="364.4" y2="285.30" stroke="#707070" stroke-width="0.8"/>
<text class="t" x="361.0" y="287.20" text-anchor="end">0</text>
<line x1="364.40" y1="284.10" x2="364.40" y2="285.70" stroke="#707070" stroke-width="0.8"/>
<text class="t" x="364.90" y="291.70" text-anchor="middle">0</text>
<line x1="386.40" y1="284.10" x2="386.40" y2="285.70" stroke="#707070" stroke-width="0.8"/>
<text class="t" x="386.90" y="291.70" text-anchor="middle">64</text>
<line x1="408.40" y1="284.10" x2="408.40" y2="285.70" stroke="#707070" stroke-width="0.8"/>
<text class="t" x="408.90" y="291.70" text-anchor="middle">128</text>
<line x1="430.40" y1="284.10" x2="430.40" y2="285.70" stroke="#707070" stroke-width="0.8"/>
<text class="t" x="430.90" y="291.70" text-anchor="middle">192</text>
<line x1="452.40" y1="284.10" x2="452.40" y2="285.70" stroke="#707070" stroke-width="0.8"/>
<text class="t" x="452.90" y="291.70" text-anchor="middle">256</text>
<path d="M366,247.2V245.6H390V247.2" fill="none" stroke="#989898" stroke-width="0.8"/>
<text class="l" x="373" y="241.9" text-anchor="middle">15</text>
</g>
<text class="s" x="63" y="8.1">Control</text>
<text class="s" x="165" y="8.1">Imatinib</text>
<text class="s" x="280" y="8.1">MPA</text>
<text class="s" x="385" y="8.1">Combined</text>
<text class="b" x="466.2" y="44.2">FL5.12-p185</text>
<text class="b" x="466.2" y="120">LAMA</text>
<text class="b" x="466.2" y="188">HL-60</text>
<text class="b" x="466.2" y="263.5">U937</text>
<path d="M6.6,12.7L9.9,19.1H3.4Z" fill="#111"/>
<line x1="6.8" y1="18" x2="6.8" y2="115.6" stroke="#222" stroke-width="1"/>
<line x1="6.8" y1="184.4" x2="6.8" y2="286.6" stroke="#222" stroke-width="1"/>
<text class="s" style="font-size:10.8px" transform="translate(9.5,145.5) rotate(-90)" text-anchor="middle" textLength="45.4" lengthAdjust="spacingAndGlyphs">Cell Counts</text>
<line x1="32" y1="302.6" x2="198.6" y2="302.6" stroke="#222" stroke-width="1"/>
<line x1="254.4" y1="302.6" x2="442" y2="302.6" stroke="#222" stroke-width="1"/>
<path d="M447.6,302.6L441.4,299.6V306Z" fill="#111"/>
<text class="s" x="206.2" y="305.6" textLength="39.8" lengthAdjust="spacingAndGlyphs">DNA area</text>
</svg></body></html>
